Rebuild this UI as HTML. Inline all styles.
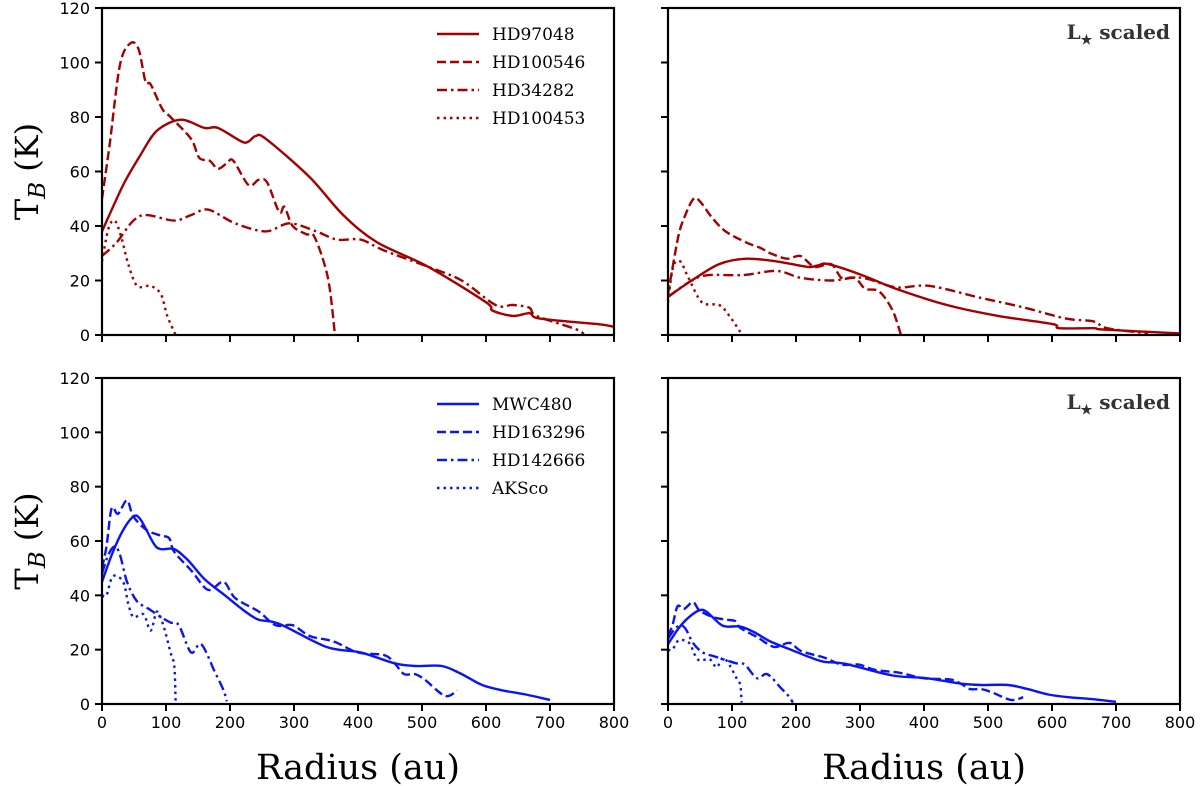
<!DOCTYPE html>
<html><head><meta charset="utf-8"><style>
body{margin:0;background:#fff;}
svg{display:block;font-family:"DejaVu Sans","Liberation Sans",sans-serif;}
.serif{font-family:"DejaVu Serif","Liberation Serif",serif;}
</style></head><body>
<svg id="fig" width="1200" height="786" viewBox="0 0 1200 786"></svg>
<script>
// ---- data (radius au, brightness temperature K) ----
const hd97048R=[0,33,60,86,123,160,181,218,229,240,256,324,377,430,510,600,610,642,668,684,774,800];
const hd97048T=[38,55,66,75,79,76,76,71,71,73,72,58,44,34,25,12,9,7,8,6,4,3];
const hd100546R=[0,12,28,44,57,68,76,94,107,139,152,168,181,195,205,229,245,258,277,285,298,319,332,353,364];
const hd100546T=[50,70,99,107,105,93,92,83,80,72,65,64,61,63,64,55,57,56,45,47,40,37,36,21,0];
const hd34282R=[0,23,49,70,113,139,166,208,256,293,335,367,404,441,510,562,615,642,668,679,742,753];
const hd34282T=[29,34,42,44,42,44,46,41,38,41,38,35,35,31,25,20,11,11,10,7,2,0];
const hd100453R=[0,10,20,30,41,55,76,92,102,115];
const hd100453T=[27,39,42,36,26,18,18,15,7,0];

const hd97048sR=[0,37,80,122,170,218,234,250,303,356,436,516,601,611,665,681,800];
const hd97048sT=[14,20,26,28,27,25,25.5,26,22,17,11,7,4,2.5,2.5,2,0.6];
const hd100546sR=[0,16,27,40,50,69,90,122,144,160,186,207,229,255,271,292,308,330,351,364];
const hd100546sT=[15,36,44,50,49,43,38,34,32,30,28,29,25,26,21,21,17,16,9,0];
const hd34282sR=[0,37,64,117,170,207,255,303,356,409,489,558,622,665,686,750];
const hd34282sT=[14,20,22,22,23.5,21,20,21,17.5,18,13.6,10,6,5,2.5,0.6];
const hd100453sR=[0,8,19,32,53,80,96,116];
const hd100453sT=[12,25,27,21,12,11,7,0];

const mwc480R=[0,17,33,49,60,81,92,113,134,160,192,224,245,277,351,404,457,489,531,562,594,626,662,700];
const mwc480T=[45,56,64,69,68,59,57,57,53,46,40,34,31,29.5,21,19,15,14,14,11,7,5,3.5,1.5];
const hd163296R=[0,7,15,25,39,49,70,92,105,113,140,166,190,208,245,271,298,325,362,399,441,457,472,489,504,536,555];
const hd163296T=[50,58,72,70,75,69,64,62,61,56,49,42,45,39,34,29,29,25,23,19,18,15,11,11,9,3,5];
const hd142666R=[0,10,20,28,39,54,73,92,107,120,139,155,176,190,195];
const hd142666T=[48,55,58,55,45,38,35,32,30,29,19,22,12,5,1];
const akscoR=[0,7,17,33,41,49,65,76,86,97,107,113,115];
const akscoT=[40,40,47,45,37,32,33,27,34,28,19,14,1];

const mwc480sT=[22,28,32,34.5,34,29.5,28.5,28.5,26.5,23,20,17,15.5,14.8,10.5,9.5,7.5,7,7,5.5,3.5,2.5,1.8,0.8];
const hd163296sT=[25,29,36,35,37.5,34.5,32,31,30.5,28,24.5,21,22.5,19.5,17,14.5,14.5,12.5,11.5,9.5,9,7.5,5.5,5.5,4.5,1.5,2.5];
const hd142666sT=[24,27.5,29,27.5,22.5,19,17.5,16,15,14.5,9.5,11,6,2.5,0.5];
const akscoSt=[20,20,23.5,22.5,18.5,16,16.5,13.5,17,14,9.5,7,0.5];

const xTicks=[0,100,200,300,400,500,600,700,800];
const yTicks=[0,20,40,60,80,100,120];

const RED="#a30000", BLUE="#0a14f5";
const STY={solid:"",dashed:"9,4",dashdot:"10,4,2.5,4",dotted:"2.5,4"};
const NS="http://www.w3.org/2000/svg";
const svg=document.getElementById('fig');
function mk(tag,attrs,parent){const e=document.createElementNS(NS,tag);for(const k in attrs)e.setAttribute(k,attrs[k]);(parent||svg).appendChild(e);return e;}
function smoothPath(P){
  let d='M'+P[0][0].toFixed(1)+','+P[0][1].toFixed(1);
  for(let i=0;i<P.length-1;i++){
    const p0=P[i-1]||P[i],p1=P[i],p2=P[i+1],p3=P[i+2]||P[i+1];
    const t=0.16;
    const c1=[p1[0]+(p2[0]-p0[0])*t,p1[1]+(p2[1]-p0[1])*t];
    const c2=[p2[0]-(p3[0]-p1[0])*t,p2[1]-(p3[1]-p1[1])*t];
    d+=' C'+c1[0].toFixed(1)+','+c1[1].toFixed(1)+' '+c2[0].toFixed(1)+','+c2[1].toFixed(1)+' '+p2[0].toFixed(1)+','+p2[1].toFixed(1);
  }
  return d;
}

const panels=[
 {name:'top-left',x0:102,x1:614,y0:335,y1:8,ylab:true,xlab:false,color:RED,
  series:[['hd97048',hd97048R,hd97048T,'solid','HD97048'],['hd100546',hd100546R,hd100546T,'dashed','HD100546'],['hd34282',hd34282R,hd34282T,'dashdot','HD34282'],['hd100453',hd100453R,hd100453T,'dotted','HD100453']],legend:true},
 {name:'top-right',x0:668,x1:1180,y0:335,y1:8,ylab:false,xlab:false,color:RED,
  series:[['hd97048',hd97048sR,hd97048sT,'solid'],['hd100546',hd100546sR,hd100546sT,'dashed'],['hd34282',hd34282sR,hd34282sT,'dashdot'],['hd100453',hd100453sR,hd100453sT,'dotted']],scaled:true},
 {name:'bottom-left',x0:102,x1:614,y0:704,y1:378,ylab:true,xlab:true,color:BLUE,
  series:[['mwc480',mwc480R,mwc480T,'solid','MWC480'],['hd163296',hd163296R,hd163296T,'dashed','HD163296'],['hd142666',hd142666R,hd142666T,'dashdot','HD142666'],['aksco',akscoR,akscoT,'dotted','AKSco']],legend:true},
 {name:'bottom-right',x0:668,x1:1180,y0:704,y1:378,ylab:false,xlab:true,color:BLUE,
  series:[['mwc480',mwc480R,mwc480sT,'solid'],['hd163296',hd163296R,hd163296sT,'dashed'],['hd142666',hd142666R,hd142666sT,'dashdot'],['aksco',akscoR,akscoSt,'dotted']],scaled:true}
];

panels.forEach(p=>{
  const g=mk('g',{});
  
  
  const sx=v=>p.x0+(v/800)*(p.x1-p.x0);
  const sy=v=>p.y0+(v/120)*(p.y1-p.y0);
  const clip=mk('clipPath',{id:'c-'+p.name},g);
  mk('rect',{x:p.x0,y:p.y1,width:p.x1-p.x0,height:p.y0-p.y1},clip);
  p.series.forEach(s=>{
    const P=s[1].map((r,i)=>[sx(r),sy(s[2][i])]);
    const pl=mk('path',{d:smoothPath(P),fill:'none',stroke:p.color,'stroke-width':2.4,'stroke-dasharray':STY[s[3]],'stroke-linejoin':'round','clip-path':'url(#c-'+p.name+')'},g);
    
    
  });
  xTicks.forEach(t=>{
    const tk=mk('line',{x1:sx(t),x2:sx(t),y1:p.y0,y2:p.y0+7,stroke:'#000','stroke-width':2},g);
    
    
    if(p.xlab){const tl=mk('text',{x:sx(t),y:p.y0+24,'text-anchor':'middle','font-size':16,fill:'#000'},g);tl.textContent=t;
      
      }
  });
  yTicks.forEach(t=>{
    const tk=mk('line',{x1:p.x0-7,x2:p.x0,y1:sy(t),y2:sy(t),stroke:'#000','stroke-width':2},g);
    
    
    if(p.ylab){const tl=mk('text',{x:p.x0-12,y:sy(t)+6,'text-anchor':'end','font-size':16,fill:'#000'},g);tl.textContent=t;
      
      }
  });
  const fr=mk('rect',{x:p.x0,y:p.y1,width:p.x1-p.x0,height:p.y0-p.y1,fill:'none',stroke:'#000','stroke-width':2.2},g);
  
  
  if(p.ylab){
    const cy=(p.y0+p.y1)/2;
    const yl=mk('text',{x:0,y:0,transform:'translate(38,'+cy+') rotate(-90)','text-anchor':'middle','font-size':32,class:'serif',fill:'#000'},g);
    yl.innerHTML='T<tspan font-style="italic" font-size="23" dy="7">B</tspan><tspan dy="-7"> (K)</tspan>';
    
    
  }
  if(p.xlab){
    const xl=mk('text',{x:(p.x0+p.x1)/2,y:p.y0+75,'text-anchor':'middle','font-size':35,class:'serif',fill:'#000'},g);
    xl.textContent='Radius (au)';
    
    
  }
  if(p.scaled){
    const st=mk('text',{x:p.x1-10,y:p.y1+31,'text-anchor':'end','font-size':20,'font-weight':'bold',class:'serif',fill:'#333'},g);
    st.innerHTML='L<tspan font-size="13" dy="5">★</tspan><tspan dy="-5"> scaled</tspan>';
    
    
  }
  if(p.legend){
    p.series.forEach((s,i)=>{
      const ly=p.y1+26+i*28;
      const ln=mk('line',{x1:p.x0+335,x2:p.x0+377,y1:ly,y2:ly,stroke:p.color,'stroke-width':2.4,'stroke-dasharray':STY[s[3]]},g);
      
      
      const lt=mk('text',{x:p.x0+390,y:ly+6,'font-size':17,class:'serif',fill:'#000'},g);
      lt.textContent=s[4];
      
      
    });
  }
});
</script>
</body></html>
